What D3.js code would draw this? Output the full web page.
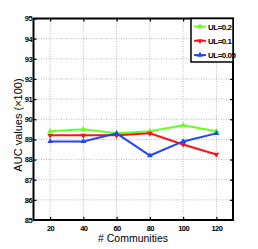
<!DOCTYPE html>
<html>
<head>
<meta charset="utf-8">
<script src="https://cdn.jsdelivr.net/npm/d3@7"></script>
<style>
  html, body { margin: 0; padding: 0; background: #fff; }
  svg { display: block; }
</style>
</head>
<body>
<svg id="chart"></svg>
<script>
// data
const communities = [20, 40, 60, 80, 100, 120];
const ul02  = [89.4, 89.5, 89.3, 89.4, 89.7, 89.4];
const ul01  = [89.2, 89.2, 89.2, 89.3, 88.75, 88.25];
const ul005 = [88.9, 88.9, 89.3, 88.2, 88.9, 89.3];
const seriesNames = ['UL=0.2', 'UL=0.1', 'UL=0.05'];
const seriesColors = ['#66ff22', '#ff1111', '#2244ff'];
const yTicks = [85, 86, 87, 88, 89, 90, 91, 92, 93, 94, 95];

const W = 258, H = 249;
const m = { l: 33.5, r: 25, t: 18.5, b: 29 };

const svg = d3.select('#chart').attr('width', W).attr('height', H);

const x = d3.scaleLinear().domain([10, 130]).range([m.l, W - m.r]);
const y = d3.scaleLinear().domain([85, 95]).range([H - m.b, m.t]);

const tickFont = '"Liberation Sans Narrow", "Liberation Sans", sans-serif';

// grid
const grid = svg.append('g');
grid.selectAll('line.gx').data(communities).join('line')
  .attr('x1', d => x(d)).attr('x2', d => x(d))
  .attr('y1', m.t).attr('y2', H - m.b)
  .attr('stroke', '#aaa').attr('stroke-width', 0.8).attr('stroke-dasharray', '1,1.5');
grid.selectAll('line.gy').data(yTicks.slice(1, -1)).join('line')
  .attr('x1', m.l).attr('x2', W - m.r)
  .attr('y1', d => y(d)).attr('y2', d => y(d))
  .attr('stroke', '#aaa').attr('stroke-width', 0.8).attr('stroke-dasharray', '1,1.5');

// axes
const xAxis = svg.append('g').attr('transform', `translate(0,${H - m.b})`)
  .call(d3.axisBottom(x).tickValues(communities).tickSize(-3).tickPadding(6));
const yAxis = svg.append('g').attr('transform', `translate(${m.l},0)`)
  .call(d3.axisLeft(y).tickValues(yTicks).tickSize(-3).tickPadding(1.5));
svg.append('g').attr('transform', `translate(${W - m.r},0)`)
  .call(d3.axisRight(y).tickValues(yTicks).tickSize(-3).tickFormat(''));
svg.append('g').attr('transform', `translate(0,${m.t})`)
  .call(d3.axisTop(x).tickValues(communities).tickSize(-3).tickFormat(''));

svg.selectAll('.domain').remove();
svg.selectAll('.tick line').attr('stroke', '#000').attr('stroke-width', 1.2);
[xAxis, yAxis].forEach(a => a.selectAll('text')
  .attr('font-family', tickFont).attr('font-size', 7.5).attr('font-weight', 'bold')
  .attr('fill', '#000').attr('letter-spacing', -0.6));

// frame
svg.append('rect')
  .attr('x', m.l).attr('y', m.t)
  .attr('width', W - m.r - m.l).attr('height', H - m.b - m.t)
  .attr('fill', 'none').attr('stroke', '#000').attr('stroke-width', 2);

// series
const allSeries = [ul02, ul01, ul005];
const line = d3.line().x((d, i) => x(communities[i])).y(d => y(d));
const tri = d3.symbol().type(d3.symbolTriangle).size(14);

allSeries.forEach((vals, si) => {
  svg.append('path').datum(vals)
    .attr('d', line)
    .attr('fill', 'none')
    .attr('stroke', seriesColors[si])
    .attr('stroke-width', 2);
  svg.append('g').selectAll('path').data(vals).join('path')
    .attr('transform', (d, i) => `translate(${x(communities[i])},${y(d)})${si === 1 ? ' rotate(180)' : ''}`)
    .attr('d', tri)
    .attr('fill', seriesColors[si]);
});

// legend
const lg = svg.append('g');
const lx = 191, ly = m.t;
lg.append('rect')
  .attr('x', lx).attr('y', ly)
  .attr('width', W - m.r - lx).attr('height', 43.5)
  .attr('fill', '#fff').attr('stroke', '#000').attr('stroke-width', 1.5);
seriesNames.forEach((name, i) => {
  const yy = ly + 8 + i * 14.3;
  lg.append('line')
    .attr('x1', lx + 3).attr('x2', lx + 15)
    .attr('y1', yy).attr('y2', yy)
    .attr('stroke', seriesColors[i]).attr('stroke-width', 2);
  lg.append('path')
    .attr('transform', `translate(${lx + 9},${yy})${i === 1 ? ' rotate(180)' : ''}`)
    .attr('d', tri).attr('fill', seriesColors[i]);
  lg.append('text')
    .attr('x', lx + 17).attr('y', yy + 3)
    .attr('font-family', tickFont).attr('font-size', 8).attr('font-weight', 'bold')
    .attr('letter-spacing', -0.5)
    .text(name);
});

// axis titles
svg.append('text')
  .attr('x', 133).attr('y', 242)
  .attr('text-anchor', 'middle')
  .attr('font-family', '"Liberation Sans", Arial, sans-serif').attr('font-size', 10.5)
  .text('# Communities');
svg.append('text')
  .attr('transform', 'translate(22,125) rotate(-90)')
  .attr('text-anchor', 'middle')
  .attr('font-family', '"Liberation Sans", Arial, sans-serif').attr('font-size', 11)
  .text('AUC values  (×100)');
</script>
</body>
</html>
